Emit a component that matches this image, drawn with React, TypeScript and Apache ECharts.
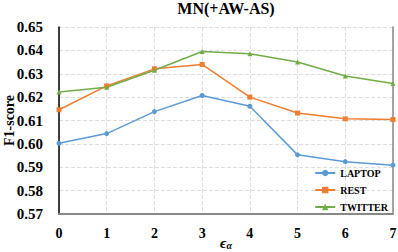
import React, { useEffect, useRef } from "react";
import * as echarts from "echarts";

const categories = ["0", "1", "2", "3", "4", "5", "6", "7"];
const laptop = [0.6003, 0.6044, 0.6138, 0.6207, 0.6161, 0.5953, 0.5924, 0.5909];
const rest = [0.6146, 0.6248, 0.6321, 0.6340, 0.6200, 0.6132, 0.6107, 0.6104];
const twitter = [0.6222, 0.6242, 0.6315, 0.6395, 0.6386, 0.6350, 0.6290, 0.6258];
const seriesNames = ["LAPTOP", "REST", "TWITTER"];
const colors = ["#5B9BD5", "#ED7D31", "#70AD47"];

const FONT = "'Liberation Serif', 'Times New Roman', serif";

export default function App() {
  const ref = useRef<HTMLDivElement>(null);
  useEffect(() => {
    if (!ref.current) return;
    const chart = echarts.init(ref.current, undefined, { renderer: "svg" });
    const mk = (name: string, data: number[], color: string, symbol: string, size: number) => ({
      name,
      type: "line",
      data,
      symbol,
      symbolSize: size,
      showSymbol: true,
      lineStyle: { color, width: 1.5 },
      itemStyle: { color },
    });
    chart.setOption({
      animation: false,
      title: {
        text: "MN(+AW-AS)",
        left: 226,
        textAlign: "center",
        top: 0,
        padding: 0,
        textStyle: { fontFamily: FONT, fontWeight: "bold", fontSize: 16, color: "#000" },
      },
      grid: { left: 59, right: 5, top: 27, bottom: 38, outerBoundsMode: "none", containLabel: false },
      legend: {
        orient: "vertical",
        right: 5,
        bottom: 35,
        itemWidth: 20,
        itemHeight: 8,
        itemGap: 7,
        data: seriesNames,
        textStyle: { fontFamily: FONT, fontWeight: "bold", fontSize: 10, color: "#000" },
      },
      xAxis: {
        type: "category",
        data: categories,
        boundaryGap: false,
        axisLine: { lineStyle: { color: "#888", width: 2 } },
        axisTick: { show: false },
        axisLabel: { fontFamily: FONT, fontWeight: "bold", fontSize: 14, color: "#000", margin: 12 },
        splitLine: { show: true, lineStyle: { type: "dashed", color: "#ddd" } },
        name: "{e|ϵ}{s|α}",
        nameLocation: "middle",
        nameGap: 21,
        nameMoveOverlap: false,
        nameTextStyle: {
          rich: {
            e: { fontFamily: FONT, fontStyle: "italic", fontWeight: "bold", fontSize: 15, lineHeight: 15, color: "#000" },
            s: { fontFamily: FONT, fontStyle: "italic", fontWeight: "bold", fontSize: 10, lineHeight: 10, color: "#000", verticalAlign: "bottom", padding: [4, 0, 0, 0] },
          },
        },
      },
      yAxis: [
        {
          type: "value",
          min: 0.57,
          max: 0.65,
          interval: 0.01,
          axisLine: { show: true, lineStyle: { color: "#000", width: 1.5 } },
          axisTick: { show: false },
          axisLabel: {
            fontFamily: FONT,
            fontWeight: "bold",
            fontSize: 15,
            color: "#000",
            margin: 16,
            formatter: (v: number) => v.toFixed(2),
          },
          splitLine: { show: true, lineStyle: { type: "dashed", color: "#ddd" } },
          name: "F1-score",
          nameLocation: "middle",
          nameGap: 43,
          nameMoveOverlap: false,
          nameTextStyle: { fontFamily: FONT, fontWeight: "bold", fontSize: 14, color: "#000" },
        },
        {
          type: "value",
          position: "right",
          min: 0.57,
          max: 0.65,
          interval: 0.01,
          axisLine: { show: true, lineStyle: { color: "#888", width: 1.5 } },
          axisTick: { show: false },
          axisLabel: { show: false },
          splitLine: { show: false },
        },
      ],
      series: [
        mk(seriesNames[0], laptop, colors[0], "circle", 5),
        mk(seriesNames[1], rest, colors[1], "rect", 5),
        mk(seriesNames[2], twitter, colors[2], "triangle", 5),
      ],
    });
    return () => chart.dispose();
  }, []);
  return <div ref={ref} style={{ width: 398, height: 252, position: "absolute", left: 0, top: 0 }} />;
}
